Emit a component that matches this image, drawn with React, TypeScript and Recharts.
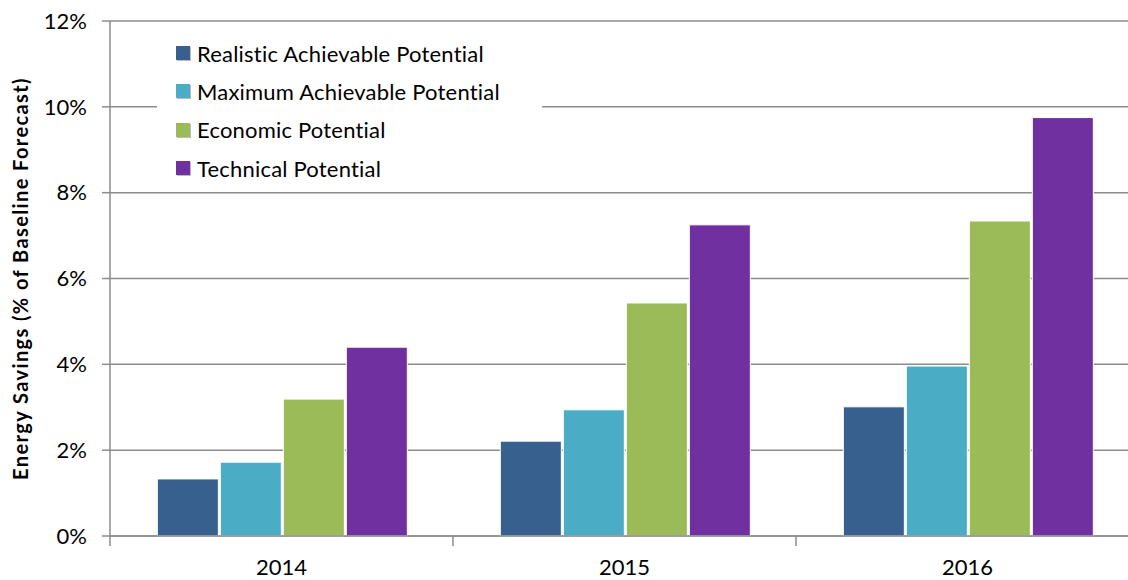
import React from 'react';
import { BarChart, Bar, XAxis, YAxis, CartesianGrid, Legend, Label } from 'recharts';

const years = ['2014', '2015', '2016'];
const realistic = [1.33, 2.21, 3.01];
const maximum = [1.72, 2.94, 3.96];
const economic = [3.19, 5.43, 7.34];
const technical = [4.4, 7.25, 9.75];
const yTicks = [0, 2, 4, 6, 8, 10, 12];

const seriesNames = [
  'Realistic Achievable Potential',
  'Maximum Achievable Potential',
  'Economic Potential',
  'Technical Potential',
];
const seriesColors = ['#37608F', '#4BACC6', '#9BBB59', '#7030A0'];

const data = years.map((y, i) => ({
  year: y,
  realistic: realistic[i],
  maximum: maximum[i],
  economic: economic[i],
  technical: technical[i],
}));

const FONT = 'Lato, "Open Sans", sans-serif';
const GRID = '#8C8C8C';

const XTick = (props: any) => {
  const { x, y, payload, index, visibleTicksCount } = props;
  const half = payload && payload.offset ? payload.offset : 171.5;
  return (
    <g>
      <line x1={x - half} y1={y - 8} x2={x - half} y2={y + 2} stroke={GRID} strokeWidth={1.5} />
      {index === visibleTicksCount - 1 ? (
        <line x1={x + half} y1={y - 8} x2={x + half} y2={y + 2} stroke={GRID} strokeWidth={1.5} />
      ) : null}
      <text x={x} y={575} textAnchor="middle" fontFamily={FONT} fontSize={22} fill="#000">
        {payload.value}
      </text>
    </g>
  );
};

const LegendContent = (props: any) => {
  const raw = props.payload || [];
  const items = [...raw].sort(
    (a: any, b: any) => seriesNames.indexOf(a.value) - seriesNames.indexOf(b.value)
  );
  return (
    <div
      style={{
        background: '#fff',
        width: 385,
        height: 150,
        paddingTop: 4,
        boxSizing: 'border-box',
        fontFamily: FONT,
        fontSize: 22,
        letterSpacing: 0.2,
        color: '#000',
      }}
    >
      {items.map((it: any, i: number) => (
        <div key={i} style={{ display: 'flex', alignItems: 'center', height: 38.3, paddingLeft: 19 }}>
          <span
            style={{
              display: 'inline-block',
              width: 14,
              height: 14,
              background: it.color,
              marginRight: 7,
              boxShadow: '1px 1px 0 #bbb',
            }}
          />
          <span>{it.value}</span>
        </div>
      ))}
    </div>
  );
};

export default function App() {
  return (
    <div style={{ position: 'fixed', left: 0, top: 0, width: 1128, height: 580, overflow: 'hidden', background: '#fff' }}>
      <BarChart
        width={1150}
        height={580}
        data={data}
        margin={{ top: 21, right: 11, bottom: 0, left: 0 }}
        barCategoryGap="13.8%"
        barGap={2}
      >
        <CartesianGrid horizontal vertical={false} stroke={GRID} strokeWidth={1.5} />
        <XAxis
          dataKey="year"
          height={44}
          axisLine={{ stroke: GRID, strokeWidth: 1.5 }}
          tickLine={false}
          tick={<XTick />}
          interval={0}
        />
        <YAxis
          width={110}
          domain={[0, 12]}
          ticks={yTicks}
          interval={0}
          tickFormatter={(v: number) => `${v}%`}
          axisLine={{ stroke: GRID, strokeWidth: 1.5 }}
          tickLine={{ stroke: GRID, strokeWidth: 1.5 }}
          tickSize={8}
          tickMargin={15}
          tick={{ fontFamily: FONT, fontSize: 22, fill: '#000' }}
        >
          <Label
            value="Energy Savings (% of Baseline Forecast)"
            angle={-90}
            position="center"
            dx={-34}
            style={{ fontFamily: FONT, fontSize: 20, fontWeight: 700, fill: '#000', letterSpacing: 1.4 }}
          />
        </YAxis>
        <Legend
          layout="vertical"
          align="center"
          verticalAlign="middle"
          wrapperStyle={{ left: 157, top: 30, width: 385 }}
          content={<LegendContent />}
        />
        <Bar dataKey="realistic" name={seriesNames[0]} fill={seriesColors[0]} stroke="#fff" strokeWidth={1} isAnimationActive={false} />
        <Bar dataKey="maximum" name={seriesNames[1]} fill={seriesColors[1]} stroke="#fff" strokeWidth={1} isAnimationActive={false} />
        <Bar dataKey="economic" name={seriesNames[2]} fill={seriesColors[2]} stroke="#fff" strokeWidth={1} isAnimationActive={false} />
        <Bar dataKey="technical" name={seriesNames[3]} fill={seriesColors[3]} stroke="#fff" strokeWidth={1} isAnimationActive={false} />
      </BarChart>
    </div>
  );
}
